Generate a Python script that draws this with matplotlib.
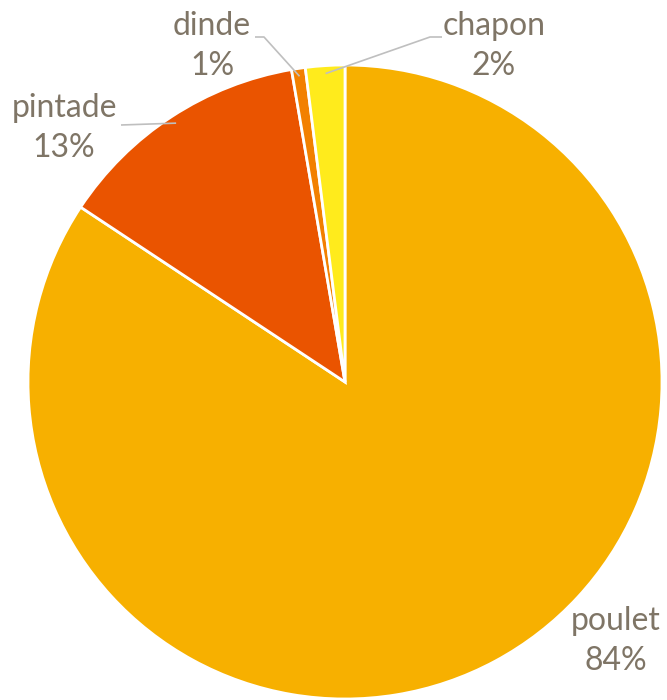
import numpy as np
import matplotlib
matplotlib.use('Agg')
import matplotlib.pyplot as plt

# data
categories = ['poulet', 'pintade', 'dinde', 'chapon']
shares = [84.3, 13.0, 0.7, 2.0]
colors = ['#F7B000', '#EA5400', '#F28000', '#FFEB1C']

# layout (pixels, y measured from top)
W, H = 667, 700
cx, cy, R = 345, 382, 317
label_xy = {'poulet': (616, 641), 'pintade': (64, 128),
            'dinde': (212, 46), 'chapon': (494, 46)}
# leader line: (start x near label, elbow x, y)
leader = {'pintade': (121, 121, 125), 'dinde': (255, 264, 37), 'chapon': (442, 430, 37)}

fig = plt.figure(figsize=(W / 100, H / 100), dpi=100)
ax = fig.add_axes([0, 0, 1, 1])

wedges, _ = ax.pie(shares, colors=colors, startangle=90, counterclock=False,
                   center=(cx, H - cy), radius=R, frame=True,
                   wedgeprops=dict(edgecolor='white', linewidth=2))
ax.set_xlim(0, W)
ax.set_ylim(0, H)
ax.set_aspect('equal')
ax.axis('off')

txt_color = '#7F7566'
line_color = '#BFBFBF'
total = sum(shares)
for name, val, w in zip(categories, shares, wedges):
    x, y = label_xy[name]
    ax.text(x, H - y, '%s\n%d%%' % (name, round(100 * val / total)),
            ha='center', va='center', fontsize=23, family='Lato',
            color=txt_color, linespacing=1.45)
    if name in leader:
        mid = np.deg2rad((w.theta1 + w.theta2) / 2)
        ax_x = cx + 0.975 * R * np.cos(mid)
        ax_y = (H - cy) + 0.975 * R * np.sin(mid)
        x0, x1, ly = leader[name]
        ax.plot([x0, x1, ax_x], [H - ly, H - ly, ax_y], color=line_color, lw=1.2,
                solid_capstyle='butt')

fig.savefig('out.png', dpi=100)
